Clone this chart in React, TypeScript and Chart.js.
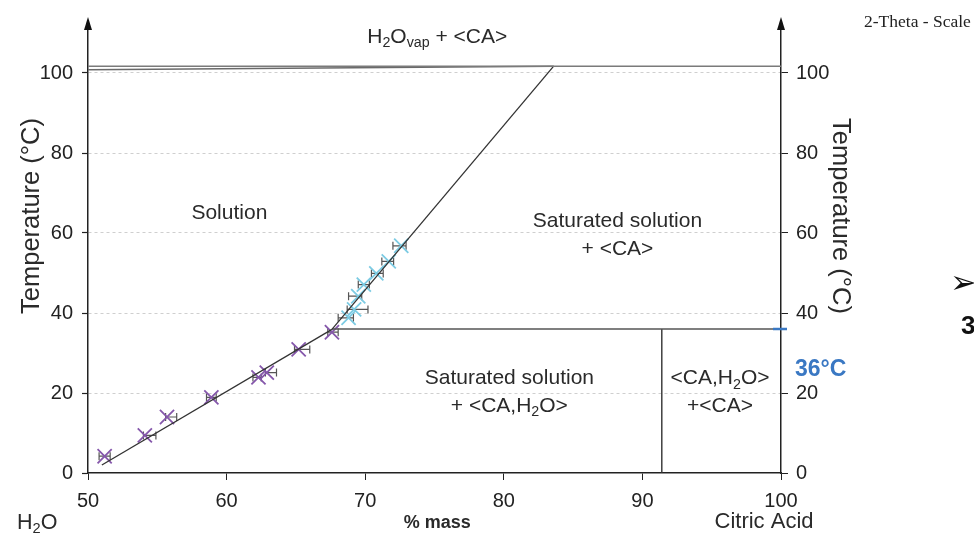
import React, { useEffect, useRef } from "react";
import { Chart, registerables } from "chart.js";

Chart.register(...registerables);

// ---- Data ----
const purpleMass = [51.2, 54.1, 55.7, 58.9, 62.3, 62.9, 65.2, 67.6];
const purpleTemp = [4.2, 9.4, 14.0, 18.9, 23.9, 25.1, 30.9, 35.2];
const purpleErrLo = [0.4, 0.1, 0.1, 0.35, 0.4, 0.1, 0.3, 0.3];
const purpleErrHi = [0.4, 0.8, 0.7, 0.35, 0.2, 0.7, 0.8, 0.45];

const cyanMass = [68.8, 69.2, 69.5, 69.9, 70.8, 71.7, 72.6];
const cyanTemp = [38.8, 40.9, 44.2, 47.1, 49.9, 52.9, 56.8];
const cyanErrLo = [0.75, 0.5, 0.7, 0.4, 0.35, 0.5, 0.6];
const cyanErrHi = [0.35, 1.0, 0.25, 0.4, 0.5, 0.35, 0.35];

const liqLowMass = [51.0, 67.6];
const liqLowTemp = [2.0, 35.9];
const liqHighMass = [67.6, 83.6];
const liqHighTemp = [35.9, 101.7];
const eutMass = [67.6, 100];
const eutTemp = [36, 36];
const periMass = [91.4, 91.4];
const periTemp = [0, 36];
const boilMass = [50, 83.6];
const boilTemp = [100.8, 101.7];
const topMass = [50, 100];
const topTemp = [101.7, 101.7];

const xTickValues = [50, 60, 70, 80, 90, 100];
const yTickValues = [0, 20, 40, 60, 80, 100];
const transitionTemp = 36;

const FONT = "'Liberation Sans', Arial, sans-serif";

type Seg = { t: string; sub?: boolean };

function drawRich(
  ctx: CanvasRenderingContext2D,
  segs: Seg[],
  x: number,
  y: number,
  size: number,
  align: "left" | "center" | "right",
  color: string,
  weight = "normal",
  family = FONT
) {
  const subSize = size * 0.68;
  let total = 0;
  const widths: number[] = [];
  for (const s of segs) {
    ctx.font = `${weight} ${s.sub ? subSize : size}px ${family}`;
    const w = ctx.measureText(s.t).width;
    widths.push(w);
    total += w;
  }
  let cx = align === "left" ? x : align === "center" ? x - total / 2 : x - total;
  const base = y + size * 0.36;
  ctx.fillStyle = color;
  ctx.textAlign = "left";
  ctx.textBaseline = "alphabetic";
  segs.forEach((s, i) => {
    ctx.font = `${weight} ${s.sub ? subSize : size}px ${family}`;
    ctx.fillText(s.t, cx, s.sub ? base + size * 0.22 : base);
    cx += widths[i];
  });
}

const errorBarPlugin = {
  id: "errorBars",
  beforeDatasetsDraw(chart: any) {
    const ctx = chart.ctx;
    const xs = chart.scales.x;
    const ys = chart.scales.y;
    const sets = [
      { m: purpleMass, t: purpleTemp, lo: purpleErrLo, hi: purpleErrHi },
      { m: cyanMass, t: cyanTemp, lo: cyanErrLo, hi: cyanErrHi },
    ];
    ctx.save();
    ctx.strokeStyle = "#555";
    ctx.lineWidth = 1.2;
    for (const s of sets) {
      s.m.forEach((m, i) => {
        const y = ys.getPixelForValue(s.t[i]);
        const x1 = xs.getPixelForValue(m - s.lo[i]);
        const x2 = xs.getPixelForValue(m + s.hi[i]);
        ctx.beginPath();
        ctx.moveTo(x1, y);
        ctx.lineTo(x2, y);
        ctx.moveTo(x1, y - 4);
        ctx.lineTo(x1, y + 4);
        ctx.moveTo(x2, y - 4);
        ctx.lineTo(x2, y + 4);
        ctx.stroke();
      });
    }
    ctx.restore();
  },
};

const annotationPlugin = {
  id: "annotations",
  afterDraw(chart: any) {
    const ctx: CanvasRenderingContext2D = chart.ctx;
    const xs = chart.scales.x;
    const ys = chart.scales.y;
    const area = chart.chartArea;
    const X = (v: number) => xs.getPixelForValue(v);
    const Y = (v: number) => ys.getPixelForValue(v);
    ctx.save();

    // axis arrows (axes extend a little above the plot area)
    const tipY = Y(100) - 56;
    ctx.fillStyle = "#111";
    ctx.strokeStyle = "#222";
    ctx.lineWidth = 1.5;
    for (const ax of [area.left, area.right]) {
      ctx.beginPath();
      ctx.moveTo(ax, area.top);
      ctx.lineTo(ax, tipY + 6);
      ctx.stroke();
      ctx.beginPath();
      ctx.moveTo(ax, tipY);
      ctx.lineTo(ax - 4, tipY + 13);
      ctx.lineTo(ax + 4, tipY + 13);
      ctx.closePath();
      ctx.fill();
    }

    // blue tick at transition temperature
    ctx.strokeStyle = "#3a78c3";
    ctx.lineWidth = 2.5;
    ctx.beginPath();
    ctx.moveTo(area.right - 8, Y(transitionTemp));
    ctx.lineTo(area.right + 6, Y(transitionTemp));
    ctx.stroke();

    const c = "#2a2a2a";
    const L = 21;
    drawRich(ctx, [{ t: "H" }, { t: "2", sub: true }, { t: "O" }, { t: "vap", sub: true }, { t: " + <CA>" }], X(75.2), Y(109.5), L, "center", c);
    drawRich(ctx, [{ t: "Solution" }], X(60.2), Y(65.4), L, "center", c);
    drawRich(ctx, [{ t: "Saturated solution" }], X(88.2), Y(63.4), L, "center", c);
    drawRich(ctx, [{ t: "+ <CA>" }], X(88.2), Y(56.4), L, "center", c);
    drawRich(ctx, [{ t: "Saturated solution" }], X(80.4), Y(24.1), L, "center", c);
    drawRich(ctx, [{ t: "+ <CA,H" }, { t: "2", sub: true }, { t: "O>" }], X(80.4), Y(17.2), L, "center", c);
    drawRich(ctx, [{ t: "<CA,H" }, { t: "2", sub: true }, { t: "O>" }], X(95.6), Y(24.1), L, "center", c);
    drawRich(ctx, [{ t: "+<CA>" }], X(95.6), Y(17.2), L, "center", c);

    drawRich(ctx, [{ t: "36°C" }], area.right + 14, Y(26.4), 23, "left", "#3a78c3", "bold");

    drawRich(ctx, [{ t: "H" }, { t: "2", sub: true }, { t: "O" }], 17, 521, 21.5, "left", c);
    drawRich(ctx, [{ t: "% mass" }], X(75.2), 522, 18, "center", c, "bold");
    drawRich(ctx, [{ t: "Citric Acid" }], 764, 520, 22, "center", c);

    // axis titles
    ctx.save();
    ctx.translate(30, 216);
    ctx.rotate(-Math.PI / 2);
    drawRich(ctx, [{ t: "Temperature (°C)" }], 0, 0, 25.5, "center", c);
    ctx.restore();
    ctx.save();
    ctx.translate(842, 216);
    ctx.rotate(Math.PI / 2);
    drawRich(ctx, [{ t: "Temperature (°C)" }], 0, 0, 25.5, "center", c);
    ctx.restore();

    // slide fragments at the right edge
    drawRich(ctx, [{ t: "2-Theta - Scale" }], 864, 21, 17.5, "left", "#222", "normal", "'Liberation Serif', 'Times New Roman', serif");
    drawRich(ctx, [{ t: "➢" }], 950, 281, 32, "left", "#111", "normal", "'DejaVu Sans', sans-serif");
    drawRich(ctx, [{ t: "3" }], 961, 325, 26, "left", "#111", "bold");

    ctx.restore();
  },
};

function pts(xs: number[], ys: number[]) {
  return xs.map((x, i) => ({ x, y: ys[i] }));
}

export default function App() {
  const ref = useRef<HTMLCanvasElement | null>(null);
  useEffect(() => {
    if (!ref.current) return;
    const lineDs = (label: string, m: number[], t: number[], color: string, w: number) => ({
      type: "line" as const,
      label,
      data: pts(m, t),
      borderColor: color,
      borderWidth: w,
      pointRadius: 0,
      showLine: true,
      fill: false,
      tension: 0,
    });
    const tickFont = { family: FONT, size: 20 };
    const chart = new Chart(ref.current, {
      type: "scatter",
      data: {
        datasets: [
          lineDs("top", topMass, topTemp, "#7a7a7a", 1.6),
          lineDs("boil", boilMass, boilTemp, "#6a6a6a", 1.4),
          lineDs("liqLow", liqLowMass, liqLowTemp, "#333", 1.3),
          lineDs("liqHigh", liqHighMass, liqHighTemp, "#333", 1.3),
          lineDs("eutectic", eutMass, eutTemp, "#555", 1.6),
          lineDs("peritectic", periMass, periTemp, "#333", 1.4),
          {
            label: "CA·H2O",
            data: pts(purpleMass, purpleTemp),
            pointStyle: "crossRot",
            pointRadius: 10,
            pointBorderWidth: 1.8,
            borderColor: "#8557ab",
            backgroundColor: "#8557ab",
          },
          {
            label: "CA",
            data: pts(cyanMass, cyanTemp),
            pointStyle: "crossRot",
            pointRadius: 10,
            pointBorderWidth: 1.8,
            borderColor: "#7ccbe3",
            backgroundColor: "#7ccbe3",
          },
        ],
      } as any,
      options: {
        responsive: false,
        animation: false,
        layout: { padding: { top: 9, left: 0, right: 0, bottom: 0 } },
        plugins: { legend: { display: false }, tooltip: { enabled: false } },
        scales: {
          x: {
            type: "linear",
            min: 50,
            max: 100,
            afterBuildTicks: (s: any) => {
              s.ticks = xTickValues.map((v) => ({ value: v }));
            },
            afterFit: (s: any) => {
              s.height = 63;
            },
            ticks: { font: tickFont, color: "#222", padding: 9, maxRotation: 0 },
            grid: { drawOnChartArea: false, drawTicks: true, tickLength: 7, color: "#222", tickColor: "#222" },
            border: { display: true, color: "#222", width: 1.5 },
          },
          y: {
            type: "linear",
            position: "left",
            min: 0,
            max: 113,
            afterBuildTicks: (s: any) => {
              s.ticks = yTickValues.map((v) => ({ value: v }));
            },
            afterFit: (s: any) => {
              s.width = 88;
            },
            ticks: { font: tickFont, color: "#222", padding: 9 },
            grid: {
              color: (c: any) => (c.tick && c.tick.value === 0 ? "rgba(0,0,0,0)" : "#cfcfcf"),
              tickColor: "#222",
              tickBorderDash: [],
              tickLength: 6,
              tickWidth: 1.2,
              lineWidth: 1,
            } as any,
            border: { display: true, color: "#222", width: 1.5, dash: [3, 3] },
          },
          y2: {
            type: "linear",
            position: "right",
            min: 0,
            max: 113,
            afterBuildTicks: (s: any) => {
              s.ticks = yTickValues.map((v) => ({ value: v }));
            },
            afterFit: (s: any) => {
              s.width = 193;
            },
            ticks: { font: tickFont, color: "#222", padding: 8 },
            grid: { drawOnChartArea: false, tickLength: 7, tickColor: "#222", color: "#222" },
            border: { display: true, color: "#222", width: 1.5 },
          },
        },
      } as any,
      plugins: [errorBarPlugin, annotationPlugin],
    });
    return () => chart.destroy();
  }, []);
  return (
    <div style={{ position: "fixed", left: 0, top: 0, width: 974, height: 536, background: "#fff" }}>
      <canvas ref={ref} width={974} height={536} style={{ width: 974, height: 536, display: "block" }} />
    </div>
  );
}
